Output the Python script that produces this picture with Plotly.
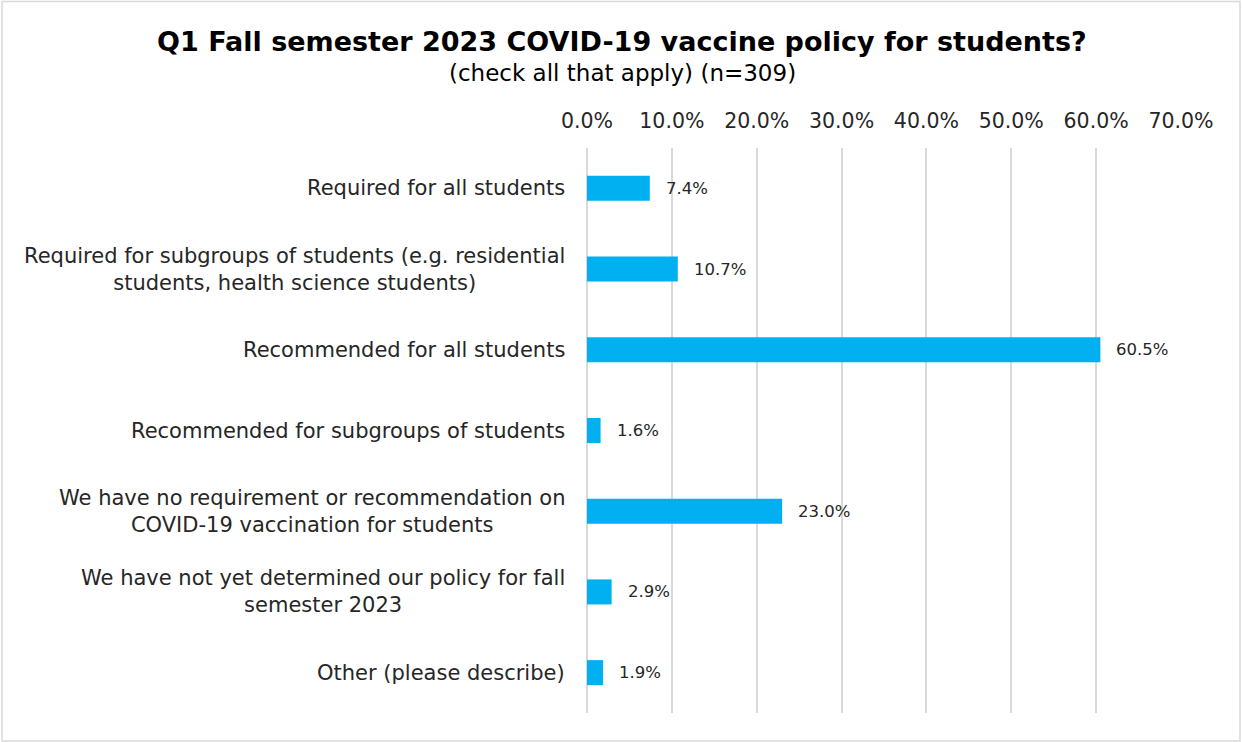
import plotly.graph_objects as go

# Survey responses, top to bottom
categories = [
    "Required for all students",
    "Required for subgroups of students (e.g. residential<br>students, health science students)",
    "Recommended for all students",
    "Recommended for subgroups of students",
    "We have no requirement or recommendation on<br>COVID-19 vaccination for students",
    "We have not yet determined our policy for fall<br>semester 2023",
    "Other (please describe)",
]
percent_values = [7.4, 10.7, 60.5, 1.6, 23.0, 2.9, 1.9]
tick_values = [0, 10, 20, 30, 40, 50, 60, 70]
tick_labels = [f"{v:.1f}%" for v in tick_values]

FONT = "DejaVu Sans"
TEXT = "#262626"

# plot area in pixels
L, R, T, B = 587, 1181, 148, 713
W, H = 1242, 742
PW, PH = R - L, B - T


def px_y(y):
    return (B - y) / PH


def px_x(x):
    return (x - L) / PW


fig = go.Figure(
    go.Bar(
        y=categories,
        x=percent_values,
        orientation="h",
        marker=dict(color="#00B0F0", line=dict(width=0)),
        hoverinfo="skip",
    )
)

annotations = [
    dict(x=px_x(622), xref="paper", y=px_y(42), yref="paper",
         text="<b>Q1 Fall semester 2023 COVID-19 vaccine policy for students?</b>",
         showarrow=False, xanchor="center", yanchor="middle",
         font=dict(family=FONT, size=27, color="#000000")),
    dict(x=px_x(622), xref="paper", y=px_y(73), yref="paper",
         text="(check all that apply) (n=309)",
         showarrow=False, xanchor="center", yanchor="middle",
         font=dict(family=FONT, size=23, color="#000000")),
]

# Category labels, centred line by line and right-aligned against the axis
for cat in categories:
    annotations.append(dict(
        x=0, xref="paper", y=cat, yref="y",
        text=cat, showarrow=False, xanchor="right", yanchor="middle",
        align="center", xshift=-20,
        font=dict(family=FONT, size=21, color=TEXT),
    ))

# Value labels to the right of each bar
for cat, v in zip(categories, percent_values):
    annotations.append(dict(
        x=v, xref="x", y=cat, yref="y",
        text=f"{v:.1f}%", showarrow=False, xanchor="left", yanchor="middle",
        xshift=14,
        font=dict(family=FONT, size=16.5, color=TEXT),
    ))

fig.update_layout(
    width=W, height=H,
    margin=dict(l=L, r=W - R, t=T, b=H - B),
    paper_bgcolor="white", plot_bgcolor="white",
    showlegend=False,
    bargap=0.69,
    xaxis=dict(
        side="top", range=[0, 70], tickvals=tick_values, ticktext=tick_labels,
        showgrid=True, gridcolor="#D9D9D9", gridwidth=1.5,
        zeroline=True, zerolinecolor="#D9D9D9", zerolinewidth=1.5,
        showline=False, ticks="",
        ticklabelstandoff=15,
        tickfont=dict(family=FONT, size=20.5, color=TEXT),
        fixedrange=True,
    ),
    yaxis=dict(
        categoryorder="array", categoryarray=categories, autorange="reversed",
        showticklabels=False, showgrid=False, zeroline=False, showline=False,
        ticks="", fixedrange=True,
    ),
    annotations=annotations,
    shapes=[dict(
        type="rect", xref="paper", yref="paper",
        x0=px_x(2), x1=px_x(1240),
        y0=px_y(741), y1=px_y(1.5),
        line=dict(color="#D9D9D9", width=1.5), layer="below",
    )],
)

fig.write_html("out.html")
